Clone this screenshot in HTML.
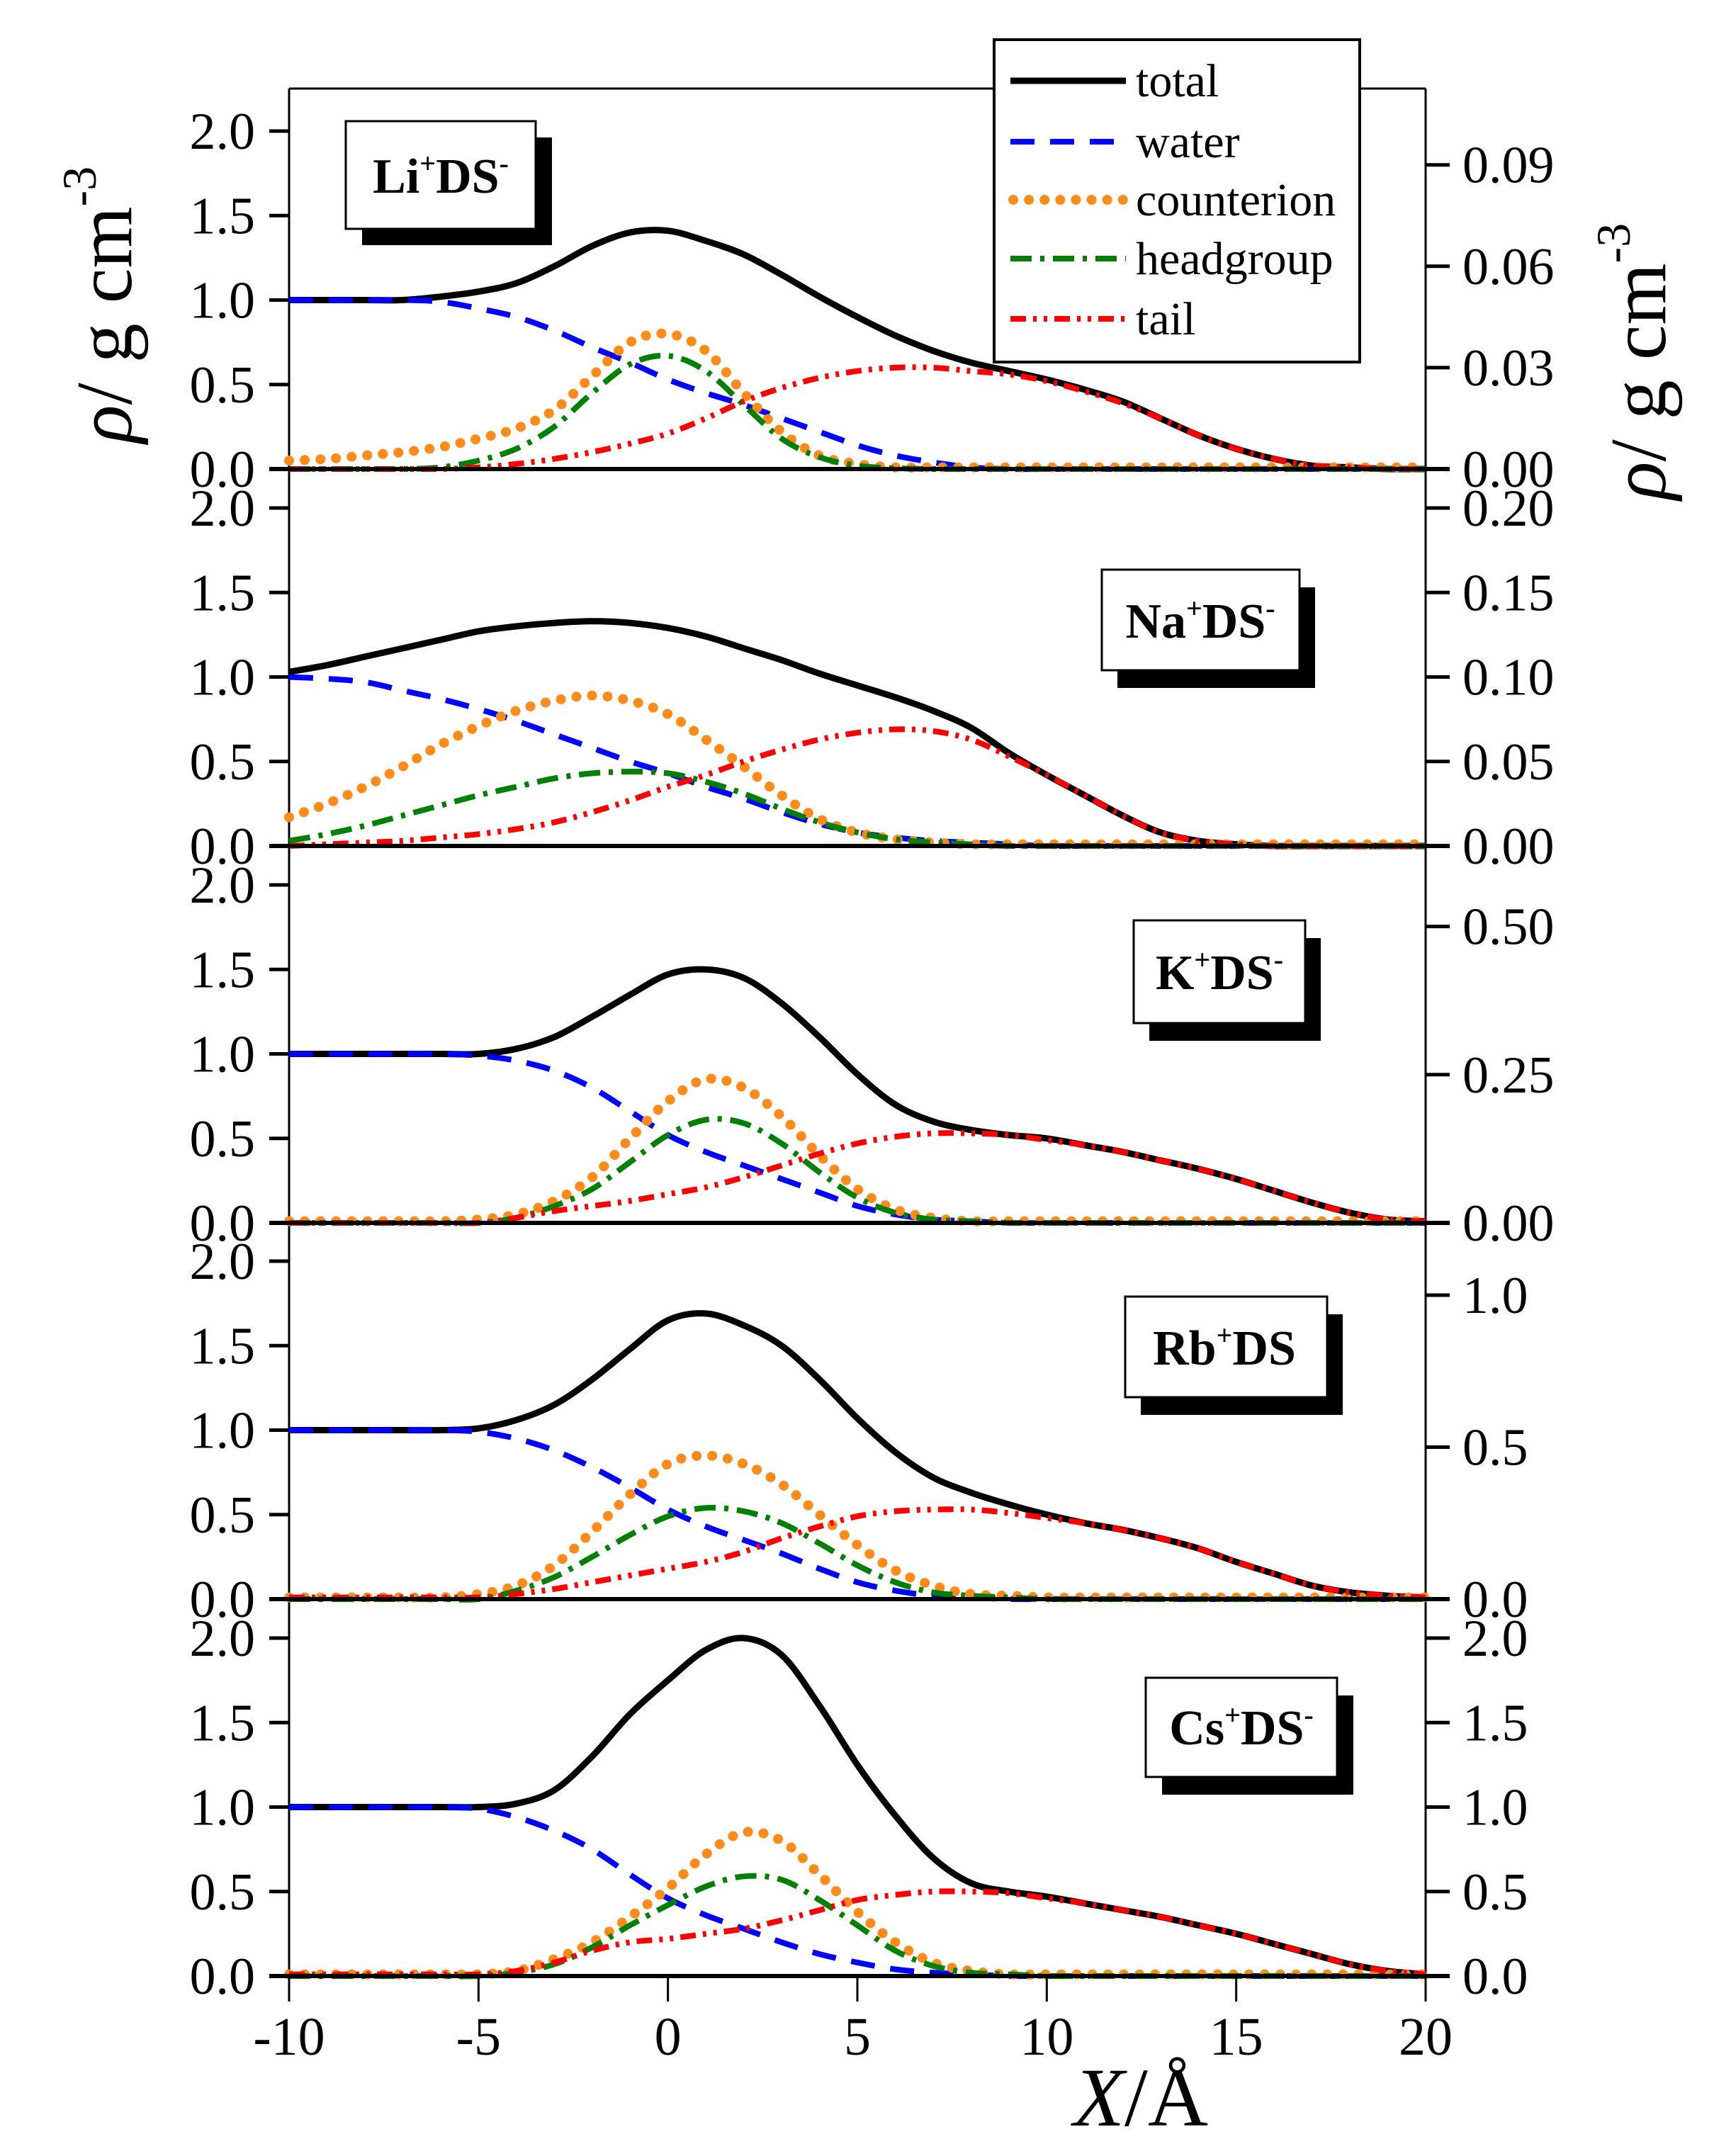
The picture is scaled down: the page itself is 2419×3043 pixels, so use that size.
<!DOCTYPE html>
<html><head><meta charset="utf-8"><style>
html,body{margin:0;padding:0;background:#fff;}
svg{display:block;font-family:"Liberation Serif",serif;}
</style></head><body>
<svg id="chart" width="2419" height="3043" viewBox="0 0 2419 3043" xmlns="http://www.w3.org/2000/svg"></svg>
<script>
const xs = [-10,-9,-8,-7,-6,-5,-4,-3,-2,-1,0,1,2,3,4,5,6,7,8,9,10,11,12,13,14,15,16,17,18,19,20];
const panelNames = ["Li","Na","K","Rb","Cs"];
const rightFactors = [0.05,0.1,0.285,0.556,1];
const rightTicks = [[0,0.03,0.06,0.09],[0,0.05,0.10,0.15,0.20],[0,0.25,0.50],[0,0.5,1.0],[0,0.5,1.0,1.5,2.0]];
const rightDigits = [2,2,2,1,1];
const leftTicks = [0,0.5,1.0,1.5,2.0];
const xTicks = [-10,-5,0,5,10,15,20];

const liTotal = [1,1,1,1,1.02,1.05,1.1,1.2,1.32,1.4,1.41,1.35,1.27,1.15,1.02,0.9,0.79,0.7,0.63,0.58,0.53,0.47,0.4,0.3,0.2,0.12,0.06,0.02,0.01,0,0];
const liWater = [1,1,1,1,0.99,0.95,0.9,0.82,0.72,0.63,0.53,0.45,0.38,0.3,0.22,0.14,0.08,0.04,0.01,0,0,0,0,0,0,0,0,0,0,0,0];
const liCounter = [0.05,0.06,0.08,0.1,0.13,0.18,0.24,0.35,0.55,0.75,0.8,0.7,0.45,0.22,0.08,0.03,0.01,0.01,0.01,0.01,0.01,0.01,0.01,0.01,0.01,0.01,0.01,0.01,0.01,0.01,0.01];
const liHead = [0,0,0,0,0.01,0.05,0.12,0.25,0.45,0.62,0.67,0.58,0.38,0.18,0.07,0.02,0.005,0,0,0,0,0,0,0,0,0,0,0,0,0,0];
const liTail = [0,0,0,0,0,0.01,0.03,0.06,0.1,0.15,0.21,0.3,0.4,0.48,0.54,0.58,0.6,0.6,0.58,0.56,0.52,0.46,0.39,0.3,0.2,0.12,0.06,0.02,0.01,0,0];

const naTotal = [1.03,1.07,1.12,1.17,1.22,1.27,1.3,1.32,1.33,1.32,1.29,1.24,1.17,1.1,1.02,0.95,0.88,0.8,0.7,0.55,0.42,0.3,0.18,0.08,0.03,0.01,0,0,0,0,0];
const naWater = [1,0.99,0.97,0.92,0.87,0.81,0.74,0.66,0.58,0.5,0.43,0.35,0.28,0.2,0.13,0.08,0.05,0.03,0.02,0.01,0,0,0,0,0,0,0,0,0,0,0];
const naCounter = [0.17,0.25,0.35,0.47,0.6,0.71,0.8,0.86,0.89,0.86,0.78,0.63,0.47,0.3,0.16,0.08,0.04,0.02,0.01,0.01,0.01,0.01,0.01,0.01,0.01,0.01,0.01,0.01,0.01,0.01,0.01];
const naHead = [0.03,0.07,0.12,0.18,0.24,0.3,0.35,0.4,0.43,0.44,0.43,0.38,0.31,0.22,0.14,0.08,0.04,0.02,0.01,0,0,0,0,0,0,0,0,0,0,0,0];
const naTail = [0,0.01,0.02,0.03,0.05,0.07,0.1,0.14,0.2,0.27,0.35,0.42,0.5,0.57,0.63,0.67,0.69,0.68,0.63,0.53,0.42,0.3,0.18,0.08,0.03,0.01,0,0,0,0,0];

const kTotal = [1,1,1,1,1,1,1.03,1.1,1.22,1.35,1.47,1.5,1.45,1.3,1.1,0.88,0.7,0.6,0.55,0.52,0.5,0.46,0.42,0.37,0.32,0.26,0.19,0.12,0.06,0.02,0.01];
const kWater = [1,1,1,1,1,0.99,0.96,0.9,0.8,0.66,0.52,0.42,0.34,0.26,0.18,0.1,0.05,0.02,0.01,0,0,0,0,0,0,0,0,0,0,0,0];
const kCounter = [0.01,0.01,0.01,0.01,0.01,0.02,0.05,0.13,0.27,0.5,0.72,0.85,0.8,0.63,0.4,0.2,0.08,0.03,0.01,0.01,0.01,0.01,0.01,0.01,0.01,0.01,0.01,0.01,0.01,0.01,0.01];
const kHead = [0,0,0,0,0,0,0.03,0.1,0.2,0.36,0.52,0.61,0.59,0.47,0.3,0.15,0.06,0.02,0.01,0,0,0,0,0,0,0,0,0,0,0,0];
const kTail = [0,0,0,0,0,0,0.03,0.07,0.1,0.13,0.17,0.21,0.27,0.34,0.41,0.47,0.51,0.53,0.53,0.52,0.49,0.46,0.42,0.37,0.32,0.26,0.19,0.12,0.06,0.02,0.01];

const rbTotal = [1,1,1,1,1,1.01,1.06,1.15,1.3,1.48,1.65,1.69,1.62,1.5,1.3,1.07,0.87,0.72,0.63,0.56,0.5,0.45,0.41,0.36,0.3,0.22,0.15,0.08,0.04,0.02,0.01];
const rbWater = [1,1,1,1,1,0.99,0.95,0.88,0.78,0.66,0.53,0.43,0.35,0.27,0.18,0.1,0.05,0.02,0.01,0,0,0,0,0,0,0,0,0,0,0,0];
const rbCounter = [0.01,0.01,0.01,0.01,0.01,0.03,0.08,0.2,0.4,0.62,0.8,0.85,0.8,0.68,0.5,0.32,0.17,0.08,0.03,0.02,0.01,0.01,0.01,0.01,0.01,0.01,0.01,0.01,0.01,0.01,0.01];
const rbHead = [0,0,0,0,0,0,0.05,0.13,0.25,0.38,0.49,0.54,0.52,0.45,0.33,0.2,0.1,0.04,0.02,0.01,0,0,0,0,0,0,0,0,0,0,0];
const rbTail = [0.01,0.01,0.01,0.01,0.01,0.01,0.03,0.06,0.1,0.14,0.18,0.22,0.28,0.36,0.43,0.49,0.52,0.53,0.53,0.51,0.48,0.45,0.41,0.36,0.3,0.22,0.15,0.08,0.04,0.02,0.01];

const csTotal = [1,1,1,1,1,1,1.02,1.1,1.3,1.55,1.75,1.93,2.0,1.9,1.6,1.25,0.95,0.7,0.55,0.5,0.47,0.43,0.39,0.35,0.3,0.25,0.19,0.13,0.07,0.03,0.01];
const csWater = [1,1,1,1,1,0.99,0.94,0.86,0.75,0.6,0.46,0.36,0.28,0.2,0.13,0.08,0.04,0.02,0.01,0,0,0,0,0,0,0,0,0,0,0,0];
const csCounter = [0.01,0.01,0.01,0.01,0.01,0.01,0.03,0.1,0.2,0.35,0.52,0.72,0.85,0.8,0.6,0.38,0.2,0.08,0.03,0.01,0.01,0.01,0.01,0.01,0.01,0.01,0.01,0.01,0.01,0.01,0.01];
const csHead = [0,0,0,0,0,0,0.02,0.07,0.17,0.3,0.42,0.53,0.59,0.57,0.45,0.3,0.15,0.06,0.02,0.01,0,0,0,0,0,0,0,0,0,0,0];
const csTail = [0.01,0.01,0.01,0.01,0.01,0.01,0.03,0.08,0.15,0.2,0.22,0.25,0.28,0.33,0.39,0.45,0.48,0.5,0.5,0.49,0.46,0.43,0.39,0.35,0.3,0.25,0.19,0.13,0.07,0.03,0.01];

const panelData = [
 [liTotal,liWater,liCounter,liHead,liTail],
 [naTotal,naWater,naCounter,naHead,naTail],
 [kTotal,kWater,kCounter,kHead,kTail],
 [rbTotal,rbWater,rbCounter,rbHead,rbTail],
 [csTotal,csWater,csCounter,csHead,csTail]];
const seriesNames = ["total","water","counterion","headgroup","tail"];

const NS="http://www.w3.org/2000/svg";
const svg=document.getElementById('chart');
const X0=408,X1=2012,TOP=125;
const baselines=[662,1194,1726,2257,2789];
const UNIT=238.5;
function xScale(v){return X0+(v+10)/30*(X1-X0);}
function yScale(p,v){return baselines[p]-v*UNIT;}
function el(tag,attrs,parent){const e=document.createElementNS(NS,tag);for(const k in attrs)e.setAttribute(k,attrs[k]);(parent||svg).appendChild(e);return e;}
const styles=[
 {stroke:"#000",w:9,dash:null,cap:"butt"},
 {stroke:"#0000ff",w:8,dash:"34 22",cap:"butt"},
 {stroke:"#ff8c1a",w:14,dash:"0.1 22",cap:"round"},
 {stroke:"#008000",w:8,dash:"30 12 6 12",cap:"butt"},
 {stroke:"#ff0000",w:8,dash:"22 10 5 10 5 10",cap:"butt"}];
function smoothPath(pts){
 let d="M"+pts[0][0].toFixed(1)+","+pts[0][1].toFixed(1);
 for(let i=0;i<pts.length-1;i++){
  const p0=pts[Math.max(0,i-1)],p1=pts[i],p2=pts[i+1],p3=pts[Math.min(pts.length-1,i+2)];
  const c1x=p1[0]+(p2[0]-p0[0])/6,c1y=p1[1]+(p2[1]-p0[1])/6;
  const c2x=p2[0]-(p3[0]-p1[0])/6,c2y=p2[1]-(p3[1]-p1[1])/6;
  d+=" C"+c1x.toFixed(1)+","+c1y.toFixed(1)+" "+c2x.toFixed(1)+","+c2y.toFixed(1)+" "+p2[0].toFixed(1)+","+p2[1].toFixed(1);
 }
 return d;
}
let fr=el('line',{x1:X0,y1:TOP,x2:X1,y2:TOP,stroke:"#000","stroke-width":3});


let la=el('line',{x1:X0,y1:TOP,x2:X0,y2:baselines[4],stroke:"#000","stroke-width":3});


let ra=el('line',{x1:X1,y1:TOP,x2:X1,y2:baselines[4],stroke:"#000","stroke-width":3});



for(let p=0;p<5;p++){
 const g=el('g',{});
 
 
 for(let s=0;s<5;s++){
  const st=styles[s];
  const pts=xs.map((x,i)=>[xScale(x),yScale(p,panelData[p][s][i])]);
  const a={d:smoothPath(pts),fill:"none",stroke:st.stroke,"stroke-width":st.w,"stroke-linecap":st.cap,"stroke-linejoin":"round"};
  if(st.dash)a["stroke-dasharray"]=st.dash;
  const path=el('path',a,g);
  
  
 }
 const bl=el('line',{x1:X0-28,y1:baselines[p],x2:X1+34,y2:baselines[p],stroke:"#000","stroke-width":6},g);
 
 
 for(const t of leftTicks){
  const y=yScale(p,t);
  const tk=el('line',{x1:X0-28,y1:y,x2:X0,y2:y,stroke:"#000","stroke-width":5},g);
  
  
  const tx=el('text',{x:360,y:y+25,"text-anchor":"end","font-size":74},g);
  tx.textContent=t.toFixed(1);
  
  
 }
 for(const t of rightTicks[p]){
  const y=yScale(p,t/rightFactors[p]);
  const tk=el('line',{x1:X1,y1:y,x2:X1+34,y2:y,stroke:"#000","stroke-width":5},g);
  
  
  const tx=el('text',{x:2064,y:y+25,"text-anchor":"start","font-size":74},g);
  tx.textContent=t.toFixed(rightDigits[p]);
  
  
 }
}
for(const t of xTicks){
 const x=xScale(t);
 const tk=el('line',{x1:x,y1:baselines[4],x2:x,y2:baselines[4]+36,stroke:"#000","stroke-width":3});
 
 
 const tx=el('text',{x:x,y:2900,"text-anchor":"middle","font-size":76});
 tx.textContent=String(t);
 
 
}
</script>
<svg style="position:absolute;left:0;top:0" width="2419" height="3043" viewBox="0 0 2419 3043" xmlns="http://www.w3.org/2000/svg" font-family="Liberation Serif, serif">
 <g>
  <rect x="511" y="194" width="268" height="152" fill="#000"/>
  <rect x="488" y="171" width="268" height="152" fill="#fff" stroke="#000" stroke-width="3"/>
  <text x="622" y="272" text-anchor="middle" font-size="70" font-weight="bold">Li<tspan dy="-28" font-size="40">+</tspan><tspan dy="28">DS</tspan><tspan dy="-28" font-size="40">-</tspan></text>
 </g>
 <g>
  <rect x="1577" y="829" width="279" height="142" fill="#000"/>
  <rect x="1555" y="804" width="279" height="142" fill="#fff" stroke="#000" stroke-width="3"/>
  <text x="1694" y="900" text-anchor="middle" font-size="70" font-weight="bold">Na<tspan dy="-28" font-size="40">+</tspan><tspan dy="28">DS</tspan><tspan dy="-28" font-size="40">-</tspan></text>
 </g>
 <g>
  <rect x="1622" y="1324" width="242" height="145" fill="#000"/>
  <rect x="1600" y="1299" width="242" height="145" fill="#fff" stroke="#000" stroke-width="3"/>
  <text x="1721" y="1396" text-anchor="middle" font-size="70" font-weight="bold">K<tspan dy="-28" font-size="40">+</tspan><tspan dy="28">DS</tspan><tspan dy="-28" font-size="40">-</tspan></text>
 </g>
 <g>
  <rect x="1610" y="1855" width="285" height="142" fill="#000"/>
  <rect x="1588" y="1830" width="285" height="142" fill="#fff" stroke="#000" stroke-width="3"/>
  <text x="1728" y="1926" text-anchor="middle" font-size="70" font-weight="bold">Rb<tspan dy="-28" font-size="40">+</tspan><tspan dy="28">DS</tspan></text>
 </g>
 <g>
  <rect x="1640" y="2393" width="270" height="140" fill="#000"/>
  <rect x="1617" y="2368" width="270" height="140" fill="#fff" stroke="#000" stroke-width="3"/>
  <text x="1752" y="2462" text-anchor="middle" font-size="70" font-weight="bold">Cs<tspan dy="-28" font-size="40">+</tspan><tspan dy="28">DS</tspan><tspan dy="-28" font-size="40">-</tspan></text>
 </g>
 <g>
  <rect x="1403" y="56" width="516" height="455" fill="#fff" stroke="#000" stroke-width="4"/>
  <line x1="1426" y1="114" x2="1589" y2="114" stroke="#000" stroke-width="9"/>
  <text x="1603" y="136" font-size="66">total</text>
  <line x1="1426" y1="200" x2="1589" y2="200" stroke="#0000ff" stroke-width="8" stroke-dasharray="34 22"/>
  <text x="1603" y="222" font-size="66">water</text>
  <line x1="1430" y1="282" x2="1589" y2="282" stroke="#ff8c1a" stroke-width="14" stroke-linecap="round" stroke-dasharray="0.1 22"/>
  <text x="1603" y="304" font-size="66">counterion</text>
  <line x1="1426" y1="365" x2="1589" y2="365" stroke="#008000" stroke-width="8" stroke-dasharray="30 12 6 12"/>
  <text x="1603" y="387" font-size="66">headgroup</text>
  <line x1="1426" y1="450" x2="1589" y2="450" stroke="#ff0000" stroke-width="8" stroke-dasharray="22 10 5 10 5 10"/>
  <text x="1603" y="472" font-size="66">tail</text>
 </g>
 <text transform="translate(185,430) rotate(-90)" text-anchor="middle" font-size="112"><tspan font-style="italic">ρ</tspan>/ g cm<tspan dy="-50" font-size="68">-3</tspan></text>
 <text transform="translate(2350,510) rotate(-90)" text-anchor="middle" font-size="112"><tspan font-style="italic">ρ</tspan>/ g cm<tspan dy="-50" font-size="68">-3</tspan></text>
 <text x="1610" y="3000" text-anchor="middle" font-size="118"><tspan font-style="italic">X</tspan>/Å</text>
</svg>
</body></html>
